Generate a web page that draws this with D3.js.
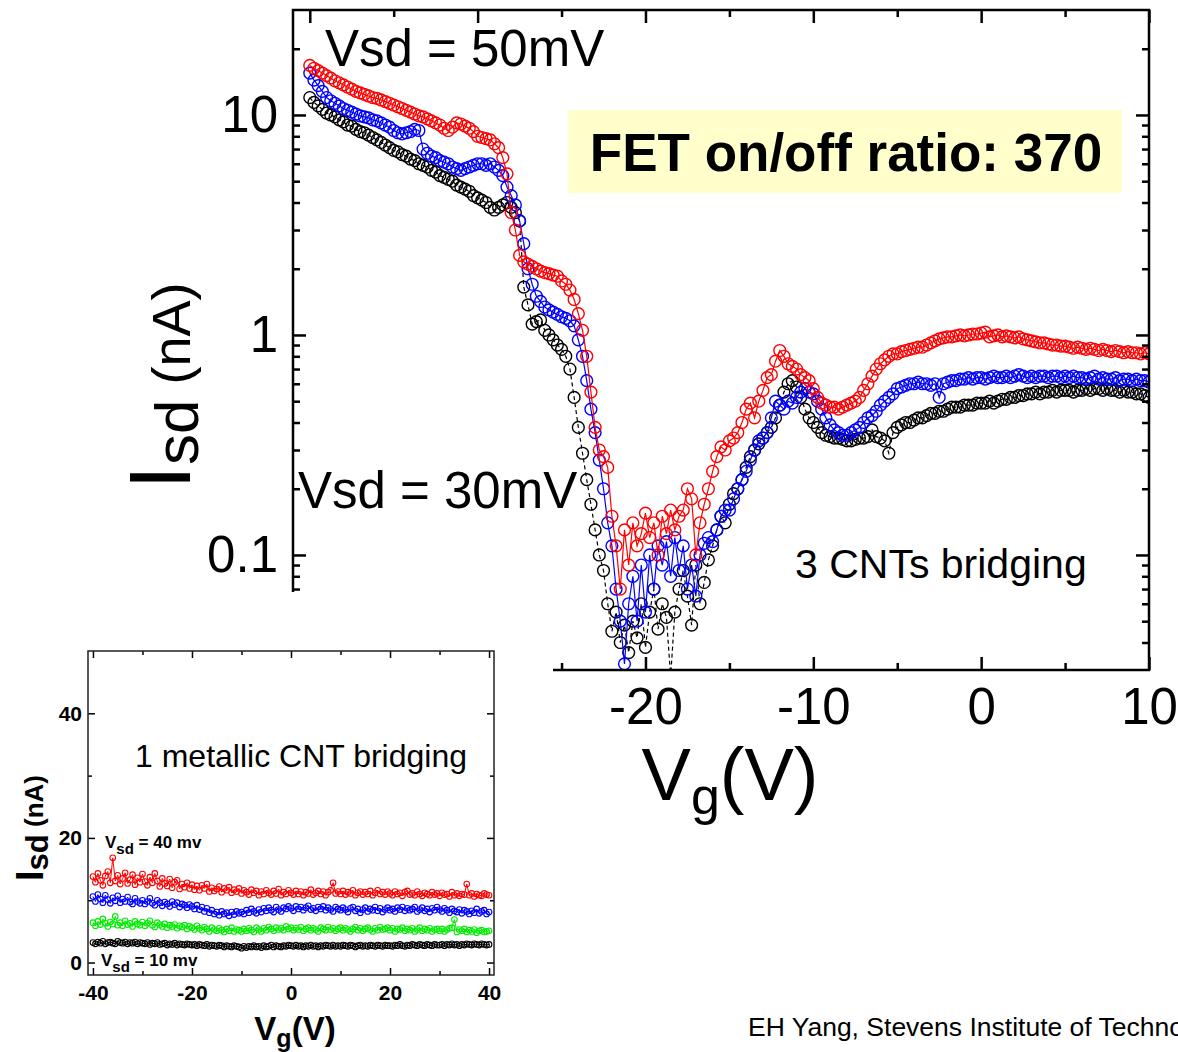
<!DOCTYPE html>
<html>
<head>
<meta charset="utf-8">
<script src="https://cdn.jsdelivr.net/npm/d3@7"></script>
<style>
body { margin: 0; background: #fff; }
text { font-family: "Liberation Sans", Arial, sans-serif; }
</style>
</head>
<body>
<svg id="chart" width="1178" height="1052"></svg>
<script>
// ---- main plot data: gate sweep -40..10 V, 0.25 V step ----
var vgMain = d3.range(-40, 10.001, 0.25);

var isd30mV = [
 12.0,11.4,11.0,10.6,10.2,10.0,9.8,9.5,9.3,9.0,8.9,8.6,8.4,8.3,8.1,7.9,7.7,7.5,7.3,7.1,
 6.9,6.8,6.6,6.5,6.3,6.2,6.0,5.9,5.8,5.6,5.5,5.3,5.2,5.1,5.0,4.8,4.7,4.6,4.5,4.3,
 4.2,4.1,4.0,3.8,3.7,3.8,3.9,4.0,3.8,3.6,3.3,1.65,1.37,1.12,1.15,1.17,1.05,1.0,0.95,0.9,
 0.86,0.80,0.70,0.52,0.38,0.29,0.22,0.17,0.13,0.10,0.085,0.06,0.045,0.055,0.04,0.048,0.036,0.05,0.042,0.06,
 0.038,0.055,0.07,0.046,0.06,0.052,0.028,0.055,0.07,0.085,0.065,0.048,0.09,0.06,0.075,0.095,0.11,0.13,0.15,0.14,
 0.17,0.19,0.20,0.22,0.25,0.28,0.30,0.32,0.34,0.36,0.38,0.42,0.48,0.55,0.60,0.62,0.58,0.52,0.46,0.42,
 0.40,0.38,0.36,0.35,0.345,0.34,0.34,0.335,0.33,0.33,0.335,0.34,0.34,0.345,0.37,0.345,0.34,0.33,0.29,0.36,
 0.38,0.39,0.40,0.40,0.41,0.42,0.42,0.43,0.44,0.44,0.45,0.45,0.46,0.47,0.47,0.47,0.48,0.48,0.48,0.49,
 0.49,0.49,0.50,0.49,0.50,0.51,0.51,0.52,0.52,0.53,0.53,0.54,0.54,0.55,0.54,0.55,0.55,0.56,0.55,0.56,
 0.56,0.56,0.55,0.56,0.56,0.57,0.56,0.57,0.57,0.56,0.57,0.56,0.56,0.55,0.56,0.55,0.55,0.54,0.54,0.53,
 0.52
];

var isd40mV = [
 15.5,14.4,13.6,12.8,12.0,11.6,11.3,11.0,10.7,10.5,10.3,10.1,9.9,9.8,9.7,9.5,9.4,9.2,9.0,8.8,
 8.5,8.3,8.2,8.3,8.4,8.6,8.5,7.0,6.7,6.5,6.4,6.2,6.1,6.0,5.8,5.7,5.6,5.7,5.8,5.9,
 6.0,6.0,5.9,6.0,5.8,5.6,5.3,4.7,4.3,3.9,3.3,2.6,2.0,1.7,1.5,1.42,1.34,1.30,1.27,1.24,
 1.21,1.19,1.16,1.10,0.95,0.80,0.62,0.46,0.36,0.27,0.20,0.14,0.11,0.07,0.05,0.032,0.06,0.08,0.05,0.09,
 0.055,0.10,0.07,0.11,0.09,0.115,0.08,0.12,0.085,0.11,0.07,0.09,0.065,0.10,0.113,0.12,0.115,0.13,0.15,0.16,
 0.16,0.18,0.20,0.22,0.24,0.27,0.30,0.33,0.34,0.36,0.42,0.50,0.48,0.46,0.50,0.49,0.52,0.55,0.57,0.55,
 0.54,0.50,0.46,0.42,0.39,0.37,0.36,0.35,0.35,0.36,0.37,0.38,0.40,0.42,0.43,0.45,0.48,0.50,0.52,0.54,
 0.57,0.58,0.59,0.60,0.60,0.61,0.60,0.60,0.59,0.60,0.52,0.60,0.61,0.62,0.62,0.63,0.63,0.64,0.63,0.64,
 0.64,0.63,0.64,0.65,0.64,0.64,0.65,0.64,0.65,0.66,0.65,0.64,0.65,0.64,0.65,0.65,0.64,0.65,0.65,0.64,
 0.65,0.64,0.65,0.64,0.64,0.63,0.64,0.65,0.63,0.64,0.63,0.63,0.64,0.62,0.63,0.63,0.62,0.63,0.62,0.62,
 0.61
];

var isd50mV = [
 16.8,16.3,15.9,15.5,15.1,14.7,14.3,14.0,13.7,13.4,13.1,12.8,12.6,12.4,12.2,12.0,11.9,11.7,11.5,11.3,
 11.1,10.9,10.7,10.5,10.3,10.1,9.9,9.8,9.6,9.4,9.2,9.0,8.7,8.5,8.8,9.2,9.1,8.9,8.7,8.4,
 8.0,7.9,7.8,7.7,7.4,7.1,6.4,5.4,3.6,3.0,2.3,2.15,2.1,2.05,2.0,1.95,1.92,1.9,1.87,1.85,
 1.76,1.70,1.60,1.45,1.25,1.05,0.80,0.55,0.38,0.30,0.28,0.25,0.15,0.11,0.07,0.13,0.09,0.14,0.11,0.125,
 0.155,0.12,0.14,0.10,0.15,0.125,0.16,0.13,0.15,0.16,0.20,0.18,0.10,0.14,0.17,0.20,0.24,0.28,0.31,0.30,
 0.33,0.34,0.36,0.40,0.46,0.49,0.42,0.50,0.56,0.64,0.66,0.76,0.85,0.80,0.74,0.72,0.70,0.66,0.64,0.62,
 0.57,0.52,0.49,0.48,0.47,0.47,0.46,0.47,0.48,0.49,0.50,0.52,0.56,0.60,0.65,0.70,0.74,0.77,0.80,0.82,
 0.82,0.84,0.85,0.86,0.87,0.88,0.88,0.90,0.92,0.94,0.96,0.97,0.98,0.98,0.99,1.00,0.99,1.00,1.01,1.01,
 1.02,1.03,0.98,0.99,1.00,0.98,0.99,0.98,0.97,0.98,0.96,0.95,0.94,0.93,0.92,0.92,0.91,0.90,0.90,0.89,
 0.89,0.88,0.87,0.88,0.87,0.86,0.87,0.86,0.85,0.86,0.85,0.84,0.85,0.84,0.83,0.84,0.83,0.83,0.82,0.83,
 0.82
];

// ---- inset data: gate sweep -40..40 V, 0.5 V step ----
var vgInset = d3.range(-40, 40.001, 0.5);

var inset40mv = [
 13.8,12.9,14.3,13.2,12.4,13.9,14.6,12.8,16.8,13.1,14.0,12.6,13.5,14.4,12.7,13.3,14.1,12.5,13.6,12.9,
 14.2,13.0,12.4,13.7,12.8,14.3,13.1,12.2,13.5,12.7,12.3,13.4,12.0,12.9,13.2,11.8,12.6,12.1,12.8,11.9,
 12.5,11.7,12.3,11.6,12.4,11.9,12.6,11.4,12.0,11.5,11.8,12.2,11.3,11.9,11.6,12.1,11.2,11.7,11.4,11.9,
 11.1,11.6,11.3,10.9,11.7,11.2,11.5,10.8,11.4,11.0,11.6,11.2,10.9,11.5,11.1,11.8,10.8,11.3,11.0,11.6,
 11.2,10.9,11.5,11.0,11.4,10.8,11.3,11.1,11.7,10.9,11.2,11.5,11.0,11.4,10.8,11.3,11.6,12.8,11.1,11.4,
 11.0,11.5,10.9,11.3,11.1,11.6,10.8,11.2,11.4,10.9,11.3,11.0,11.5,10.8,11.2,11.6,11.0,11.3,10.9,11.4,
 11.1,10.8,11.4,11.0,11.2,10.7,11.3,11.5,10.9,11.1,10.8,11.4,11.0,10.7,11.2,11.0,10.8,11.3,10.9,11.1,
 10.7,11.2,10.9,11.0,10.6,11.3,10.8,11.1,10.7,11.0,10.9,12.6,10.8,11.1,10.6,11.0,10.8,10.7,11.1,10.9,
 10.8
];

var inset30mv = [
 10.6,9.8,10.9,10.2,9.6,10.8,10.1,9.5,10.4,9.9,10.7,9.6,10.2,9.8,10.5,9.7,9.4,10.3,9.8,9.5,
 10.0,9.4,9.8,10.3,9.5,9.2,10.0,9.6,9.1,9.7,9.4,9.0,9.8,9.3,9.6,8.9,9.4,9.2,8.8,9.3,
 9.0,8.6,9.2,8.5,8.9,8.2,8.7,8.0,8.4,7.8,8.1,7.6,8.2,7.8,8.0,7.5,8.1,7.7,8.2,7.9,
 8.1,7.8,8.4,8.0,8.6,8.2,7.9,8.5,8.1,8.7,8.3,8.8,8.4,8.1,8.9,8.5,8.2,8.8,8.6,9.0,
 8.7,8.3,9.0,8.6,8.9,8.4,8.8,9.1,8.5,8.7,8.3,8.9,8.6,9.0,8.4,8.8,8.5,8.2,8.9,8.6,
 8.4,8.8,8.5,8.1,8.7,8.9,8.3,8.6,8.0,8.5,8.8,8.2,8.6,8.4,8.9,8.3,8.7,8.1,8.5,8.8,
 8.4,8.6,8.2,8.8,8.5,8.9,8.3,8.7,8.4,8.6,8.9,8.2,8.5,8.8,8.3,8.6,8.1,8.7,8.4,8.9,
 8.5,8.2,8.7,8.4,8.0,8.6,8.3,8.1,8.5,7.9,8.4,8.2,7.8,8.3,8.0,8.6,7.9,8.2,8.4,7.8,
 8.1
];

var inset20mv = [
 6.4,5.9,6.6,6.1,7.0,6.3,5.8,6.5,6.2,7.4,6.0,6.4,5.9,6.7,6.1,6.3,5.8,6.6,6.2,6.0,
 6.5,5.9,6.3,6.7,6.0,5.7,6.4,6.1,5.8,6.2,5.6,6.0,5.8,6.1,5.5,5.9,5.7,6.0,5.4,5.8,
 5.6,5.3,5.9,5.5,5.2,5.7,5.4,5.0,5.6,5.3,5.1,5.5,5.2,4.9,5.4,5.1,5.6,5.0,5.3,5.2,
 5.0,5.4,5.1,5.5,5.2,4.9,5.6,5.3,5.0,5.5,5.2,5.7,5.4,5.1,5.6,5.3,5.5,5.2,5.8,5.4,
 5.6,5.2,5.5,5.3,5.7,5.1,5.4,5.6,5.2,5.5,5.3,5.0,5.6,5.4,5.2,5.7,5.3,5.5,5.1,5.4,
 5.6,5.2,5.5,5.3,5.0,5.4,5.7,5.2,5.5,5.1,5.4,5.6,5.3,5.0,5.5,5.2,5.7,5.3,5.4,5.6,
 5.2,5.5,5.0,5.4,5.3,5.6,5.1,5.4,5.2,5.5,5.0,5.3,5.6,5.1,5.4,5.2,5.5,5.0,5.3,5.4,
 5.1,5.4,5.0,5.3,5.5,5.6,6.9,4.9,5.3,5.1,5.4,4.9,5.2,5.0,5.3,4.8,5.1,5.2,4.9,5.0,
 5.1
];

var inset10mv = [
 3.2,3.0,3.3,3.1,3.4,3.0,3.2,3.3,3.1,3.0,3.4,3.2,3.1,3.3,3.0,3.2,3.1,3.3,3.0,3.2,
 3.1,3.0,3.2,2.9,3.1,3.0,3.2,2.9,3.0,3.1,2.8,3.0,2.9,3.1,2.8,3.0,2.9,2.8,3.0,2.9,
 2.8,2.9,2.7,2.9,2.8,2.7,2.9,2.6,2.8,2.7,2.6,2.8,2.7,2.5,2.7,2.6,2.5,2.7,2.6,2.5,
 2.3,2.6,2.4,2.6,2.5,2.7,2.5,2.6,2.4,2.7,2.5,2.6,2.8,2.5,2.7,2.6,2.5,2.7,2.6,2.8,
 2.7,2.6,2.8,2.6,2.7,2.5,2.7,2.6,2.8,2.6,2.7,2.5,2.7,2.6,2.8,2.7,2.6,2.8,2.6,2.7,
 2.6,2.8,2.7,2.6,2.8,2.7,2.5,2.7,2.8,2.6,2.7,2.6,2.8,2.7,2.6,2.8,2.7,2.6,2.8,2.7,
 2.7,2.6,2.8,2.7,2.9,2.7,2.6,2.8,2.7,2.9,2.8,2.7,2.9,2.8,2.7,2.9,2.8,2.7,2.9,2.8,
 2.8,2.9,2.7,2.9,2.8,3.0,2.8,2.9,2.7,2.9,2.8,3.0,2.9,2.8,3.0,2.9,2.8,3.0,2.9,2.8,
 2.9
];

var mainYMajor = [0.1, 1, 10];
var mainYMinor = [0.04,0.05,0.06,0.07,0.08,0.09,0.2,0.3,0.4,0.5,0.6,0.7,0.8,0.9,2,3,4,5,6,7,8,9,20];
var mainXMajor = [-40, -30, -20, -10, 0, 10];
var mainXMinor = [-35, -25, -15, -5, 5];
var insetXMajor = [-40, -20, 0, 20, 40];
var insetXMinor = [-30, -10, 10, 30];
var insetYMajor = [0, 20, 40];
var insetYMinor = [10, 30];

var svg = d3.select("#chart");
var plain = function (d) { return String(d); };

// ================= main plot =================
var x = d3.scaleLinear().domain([-41, 10]).range([293, 1149]);
var y = d3.scaleLog().domain([0.03, 30]).range([670, 10]);

svg.append("clipPath").attr("id", "mainClip")
  .append("rect").attr("x", 293).attr("y", 10).attr("width", 856).attr("height", 660);

var mainSeries = [
  { color: "#000000", dash: "4,3", values: isd30mV },
  { color: "#0000ff", dash: null, values: isd40mV },
  { color: "#ff0000", dash: null, values: isd50mV }
];

var plot = svg.append("g").attr("clip-path", "url(#mainClip)");

mainSeries.forEach(function (s) {
  var pts = vgMain.map(function (v, i) { return [v, s.values[i]]; });
  var line = d3.line()
    .x(function (d) { return x(d[0]); })
    .y(function (d) { return y(d[1]); });
  plot.append("path")
    .attr("d", line(pts))
    .attr("fill", "none")
    .attr("stroke", s.color)
    .attr("stroke-width", 1.2)
    .attr("stroke-dasharray", s.dash);
  plot.selectAll(null)
    .data(pts)
    .enter()
    .append("circle")
    .attr("cx", function (d) { return x(d[0]); })
    .attr("cy", function (d) { return y(d[1]); })
    .attr("r", 5.9)
    .attr("fill", "none")
    .attr("stroke", s.color)
    .attr("stroke-width", 1.4);
});

function styleAxis(g, width, fontSize, bold) {
  g.select(".domain").remove();
  g.selectAll(".tick line").attr("stroke", "#000").attr("stroke-width", width);
  g.selectAll("text")
    .attr("font-size", fontSize)
    .attr("font-family", "Liberation Sans, Arial, sans-serif")
    .attr("font-weight", bold ? "bold" : null)
    .attr("fill", "#000");
}

function drawAxes(xs, ys, opt) {
  var r = xs.range(), b = ys.range();
  var left = r[0], right = r[1], bottom = b[0], top = b[1];
  var list = [
    [d3.axisBottom(xs).tickValues(opt.xMajor).tickSize(-opt.major).tickPadding(opt.xPad).tickFormat(plain), 0, bottom],
    [d3.axisBottom(xs).tickValues(opt.xMinor).tickSize(-opt.minor).tickFormat(""), 0, bottom],
    [d3.axisTop(xs).tickValues(opt.xMajor).tickSize(-opt.major).tickFormat(""), 0, top],
    [d3.axisTop(xs).tickValues(opt.xMinor).tickSize(-opt.minor).tickFormat(""), 0, top],
    [d3.axisLeft(ys).tickValues(opt.yMajor).tickSize(-opt.major).tickPadding(opt.yPad).tickFormat(plain), left, 0],
    [d3.axisLeft(ys).tickValues(opt.yMinor).tickSize(-opt.minor).tickFormat(""), left, 0],
    [d3.axisRight(ys).tickValues(opt.yMajor).tickSize(-opt.major).tickFormat(""), right, 0],
    [d3.axisRight(ys).tickValues(opt.yMinor).tickSize(-opt.minor).tickFormat(""), right, 0]
  ];
  list.forEach(function (a) {
    var g = svg.append("g").attr("transform", "translate(" + a[1] + "," + a[2] + ")").call(a[0]);
    styleAxis(g, opt.width, opt.font, opt.bold);
  });
  svg.append("rect")
    .attr("x", left).attr("y", top)
    .attr("width", right - left).attr("height", bottom - top)
    .attr("fill", "none").attr("stroke", opt.frame).attr("stroke-width", opt.width);
}

drawAxes(x, y, {
  xMajor: mainXMajor, xMinor: mainXMinor, yMajor: mainYMajor, yMinor: mainYMinor,
  major: 13, minor: 7, width: 2.5, font: 51, xPad: 18, yPad: 15, bold: false, frame: "#000"
});

// main axis titles
var yTitle = svg.append("text")
  .attr("transform", "translate(190,386) rotate(-90)")
  .attr("text-anchor", "middle");
yTitle.append("tspan").attr("font-size", 88).text("I");
yTitle.append("tspan").attr("font-size", 62).attr("dy", 8).text("sd");
yTitle.append("tspan").attr("font-size", 54).attr("dy", -8).text(" (nA)");

var xTitle = svg.append("text")
  .attr("x", 730).attr("y", 800)
  .attr("text-anchor", "middle");
xTitle.append("tspan").attr("font-size", 74).text("V");
xTitle.append("tspan").attr("font-size", 52).attr("dy", 14).text("g");
xTitle.append("tspan").attr("font-size", 74).attr("dy", -14).text("(V)");

// annotations
svg.append("text").attr("x", 325).attr("y", 66).attr("font-size", 51).text("Vsd = 50mV");
svg.append("text").attr("x", 298).attr("y", 508).attr("font-size", 51).text("Vsd = 30mV");
svg.append("rect").attr("x", 568).attr("y", 110).attr("width", 554).attr("height", 83).attr("fill", "#ffffcc");
svg.append("text").attr("x", 846).attr("y", 171).attr("text-anchor", "middle")
  .attr("font-size", 53).attr("font-weight", "bold").text("FET on/off ratio: 370");
svg.append("text").attr("x", 795).attr("y", 578).attr("font-size", 41).text("3 CNTs bridging");

// white panel behind the inset
svg.append("rect").attr("x", 0).attr("y", 592).attr("width", 553).attr("height", 460).attr("fill", "#fff");

svg.append("text").attr("x", 748).attr("y", 1036).attr("font-size", 26.5)
  .text("EH Yang, Stevens Institute of Technology");

// ================= inset =================
var xi = d3.scaleLinear().domain([-41, 41]).range([88, 494]);
var yi = d3.scaleLinear().domain([-2, 50]).range([975, 651]);

var insetSeries = [
  { color: "#000000", values: inset10mv },
  { color: "#00ee00", values: inset20mv },
  { color: "#0000ff", values: inset30mv },
  { color: "#ff0000", values: inset40mv }
];

insetSeries.forEach(function (s) {
  var pts = vgInset.map(function (v, i) { return [v, s.values[i]]; });
  var line = d3.line()
    .x(function (d) { return xi(d[0]); })
    .y(function (d) { return yi(d[1]); });
  svg.append("path")
    .attr("d", line(pts))
    .attr("fill", "none")
    .attr("stroke", s.color)
    .attr("stroke-width", 1);
  svg.selectAll(null)
    .data(pts)
    .enter()
    .append("circle")
    .attr("cx", function (d) { return xi(d[0]); })
    .attr("cy", function (d) { return yi(d[1]); })
    .attr("r", 2.8)
    .attr("fill", "none")
    .attr("stroke", s.color)
    .attr("stroke-width", 1.1);
});

drawAxes(xi, yi, {
  xMajor: insetXMajor, xMinor: insetXMinor, yMajor: insetYMajor, yMinor: insetYMinor,
  major: 7, minor: 4, width: 1.5, font: 21, xPad: 10, yPad: 6, bold: true, frame: "#222"
});

var yiTitle = svg.append("text")
  .attr("transform", "translate(43,828) rotate(-90)")
  .attr("text-anchor", "middle")
  .attr("font-weight", "bold");
yiTitle.append("tspan").attr("font-size", 38).text("I");
yiTitle.append("tspan").attr("font-size", 31).attr("dy", 5).text("sd");
yiTitle.append("tspan").attr("font-size", 26).attr("dy", -5).text(" (nA)");

var xiTitle = svg.append("text")
  .attr("x", 295).attr("y", 1040)
  .attr("text-anchor", "middle")
  .attr("font-weight", "bold");
xiTitle.append("tspan").attr("font-size", 33).text("V");
xiTitle.append("tspan").attr("font-size", 25).attr("dy", 7).text("g");
xiTitle.append("tspan").attr("font-size", 33).attr("dy", -7).text("(V)");

svg.append("text").attr("x", 135).attr("y", 767).attr("font-size", 32).text("1 metallic CNT bridging");

function vsdLabel(xp, yp, rest) {
  var t = svg.append("text").attr("x", xp).attr("y", yp).attr("font-weight", "bold");
  t.append("tspan").attr("font-size", 17).text("V");
  t.append("tspan").attr("font-size", 15).attr("dy", 6).text("sd");
  t.append("tspan").attr("font-size", 17).attr("dy", -6).text(rest);
}
vsdLabel(105, 848, " = 40 mv");
vsdLabel(101, 966, " = 10 mv");
</script>
</body>
</html>
